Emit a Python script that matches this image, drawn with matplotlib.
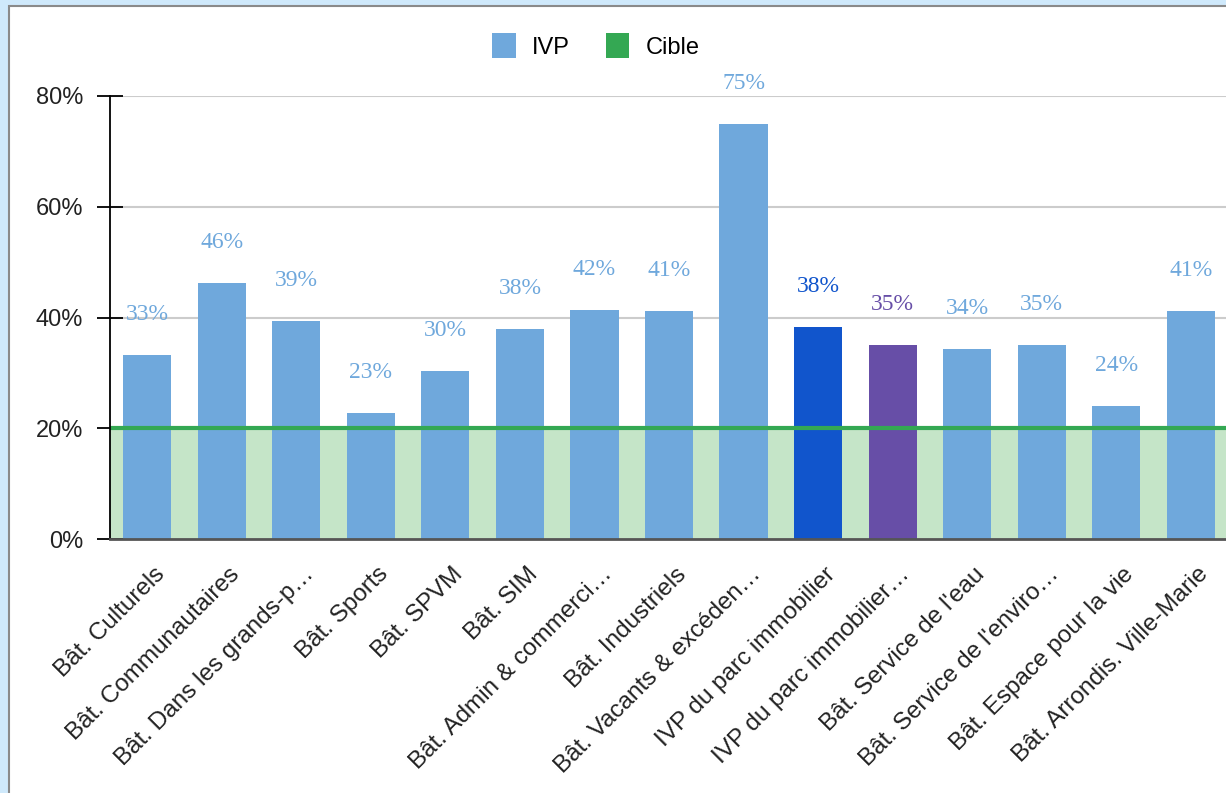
import matplotlib.pyplot as plt
from matplotlib.patches import Patch, Rectangle
import matplotlib.transforms as mtransforms

# data
categories = [
    "Bât. Culturels", "Bât. Communautaires", "Bât. Dans les grands-p…",
    "Bât. Sports", "Bât. SPVM", "Bât. SIM", "Bât. Admin & commerci…",
    "Bât. Industriels", "Bât. Vacants & excéden…", "IVP du parc immobilier",
    "IVP du parc immobilier…", "Bât. Service de l'eau",
    "Bât. Service de l'enviro…", "Bât. Espace pour la vie",
    "Bât. Arrondis. Ville-Marie",
]
ivp = [33.2, 46.2, 39.4, 22.8, 30.3, 37.9, 41.4, 41.2, 74.9, 38.3, 35.0, 34.3, 35.0, 24.0, 41.2]
labels = ["33%", "46%", "39%", "23%", "30%", "38%", "42%", "41%", "75%", "38%", "35%", "34%", "35%", "24%", "41%"]
target = 20
yticks = [0, 20, 40, 60, 80]

base_col = "#6fa8dc"
bar_colors = [base_col] * len(ivp)
bar_colors[9] = "#1155cc"
bar_colors[10] = "#674ea7"

sans = ["Liberation Sans", "DejaVu Sans"]
serif = ["Liberation Serif", "DejaVu Serif"]

fig = plt.figure(figsize=(12.26, 7.93), dpi=100)
fig.patch.set_facecolor("#cfe9fb")
# white chart panel with grey border
fig.add_artist(Rectangle((9 / 1226, -0.05), 1.2, 1 - 6 / 793 + 0.05,
                         transform=fig.transFigure, facecolor="white",
                         edgecolor="#8a8a8a", linewidth=1.5, zorder=0))

ax = fig.add_axes([110 / 1226, 1 - 539 / 793, 1118 / 1226, (539 - 96) / 793])
ax.set_facecolor("none")

x = list(range(len(ivp)))
ax.set_xlim(-0.5, len(ivp) - 0.5)
ax.set_ylim(0, 80)

# target zone and line
ax.axhspan(0, target, color="#c5e5c8", zorder=0.5, lw=0)
for t in yticks[1:]:
    ax.axhline(t, color="#cccccc", lw=1.5, zorder=0.6)
ax.axhline(target, color="#34a853", lw=3, zorder=3)

ax.bar(x, ivp, width=0.645, color=bar_colors, zorder=2)

for xi, v, lab, c in zip(x, ivp, labels, bar_colors):
    ax.annotate(lab, (xi, v), xytext=(0, 29), textcoords="offset points",
                ha="center", va="center", color=c, fontsize=17,
                family=serif, annotation_clip=False)

ax.set_yticks(yticks)
ax.set_yticklabels([f"{t}%" for t in yticks], family=sans, fontsize=17, color="#222222")
ax.tick_params(axis="y", direction="inout", length=19, width=1.3, pad=10)

ax.set_xticks(x)
ax.set_xticklabels(categories, rotation=45, ha="right", va="center",
                   rotation_mode="anchor", family=sans, fontsize=17.5, color="#222222")
ax.tick_params(axis="x", length=0, pad=23)
shift = mtransforms.ScaledTranslation(14 / 100, 0, fig.dpi_scale_trans)
for lbl in ax.get_xticklabels():
    lbl.set_transform(lbl.get_transform() + shift)

for s in ["top", "right"]:
    ax.spines[s].set_visible(False)
ax.spines["left"].set_color("black")
ax.spines["left"].set_linewidth(1.3)
ax.spines["bottom"].set_color("#555555")
ax.spines["bottom"].set_linewidth(2)
ax.spines["left"].set_zorder(4)
ax.spines["bottom"].set_zorder(4)

handles = [Patch(facecolor=base_col, label="IVP"), Patch(facecolor="#34a853", label="Cible")]
fig.legend(handles=handles, loc="center", bbox_to_anchor=(596 / 1226, 1 - 46 / 793),
           ncol=2, frameon=False, handlelength=1.0, handleheight=1.2,
           handletextpad=0.7, columnspacing=1.5, prop={"family": sans, "size": 17})

fig.savefig("out.png", dpi=100, facecolor=fig.get_facecolor())
